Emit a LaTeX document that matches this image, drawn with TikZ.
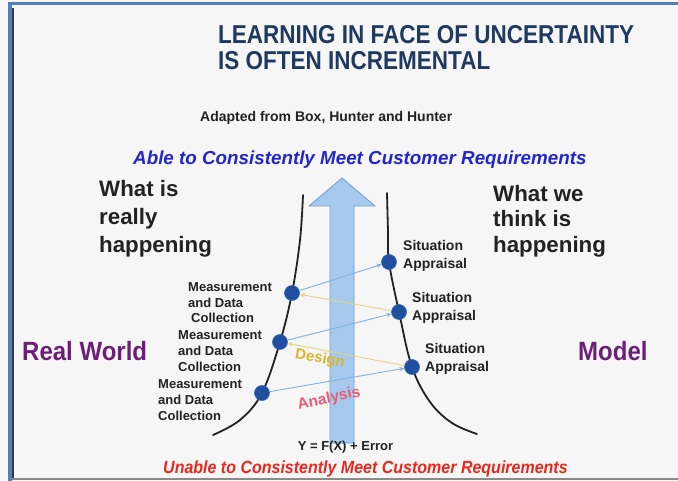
\documentclass[tikz,border=0pt]{standalone}
\usepackage{fontspec}
\setmainfont{Liberation Sans}
\usetikzlibrary{arrows.meta}
\definecolor{bgc}{HTML}{F6F6F6}
\definecolor{framec}{HTML}{4F7FC0}
\definecolor{innerline}{HTML}{3A3A3A}
\definecolor{bottomline}{HTML}{8A8A8A}
\definecolor{ink}{HTML}{222222}
\definecolor{titlec}{HTML}{1F3A60}
\definecolor{ablec}{HTML}{2226C8}
\definecolor{unablec}{HTML}{E8281E}
\definecolor{purplec}{HTML}{6D1F78}
\definecolor{designc}{HTML}{DDB52C}
\definecolor{analysisc}{HTML}{E85C78}
\definecolor{arrowfill}{HTML}{A6CAEE}
\definecolor{arrowedge}{HTML}{6E9DD3}
\definecolor{dotc}{HTML}{1F4F9E}
\definecolor{dotedge}{HTML}{2F66BA}
\definecolor{linkblue}{HTML}{80B0DE}
\definecolor{linkyel}{HTML}{E6D27E}
\begin{document}
\begin{tikzpicture}[x=1pt,y=-1pt,
  txt/.style={inner sep=0pt, text=ink},
  dot/.style={circle, fill=dotc, draw=dotedge, line width=0.6pt, minimum size=15pt, inner sep=0pt},
  fwd/.style={draw=linkblue, line width=0.9pt, -{Stealth[length=5pt,width=4.5pt]}},
  bwd/.style={draw=linkyel, line width=0.9pt, -{Stealth[length=5pt,width=4.5pt]}},
  curve/.style={draw=ink, line width=1.8pt, line cap=round},
  lbl/.style={txt, anchor=north west, align=left, font=\fontsize{13}{16}\selectfont\bfseries},
  sit/.style={txt, anchor=north west, align=left, font=\fontsize{14}{18}\selectfont\bfseries},
  big/.style={txt, anchor=north west, align=left, font=\fontsize{22.3}{28}\selectfont\bfseries},
  side/.style={inner sep=0pt, text=purplec, anchor=base west, font=\fontsize{24}{28}\selectfont\bfseries, transform shape, yscale=1.1},
]
\useasboundingbox (0,0) rectangle (678,481);
\fill[bgc] (0,0) rectangle (678,481);
% frame
\fill[framec] (8,2) rectangle (678,5);
\fill[framec] (8,2) rectangle (12,481);
\fill[innerline] (12,8) rectangle (14,478);
\fill[bottomline] (12,477.5) rectangle (678,480);

% big arrow
\coordinate (tip) at (342,178);
\filldraw[fill=arrowfill, draw=arrowedge, line width=0.8pt]
  (330,443) -- (330,206) -- (309,206) -- (tip) -- (375,206) -- (354,206) -- (354,443) -- cycle;

% curves
\draw[curve] plot[smooth, tension=0.6] coordinates {(303,195) (300,240) (292,293) (280,342) (262,393) (240,420) (213,435)};
\draw[curve] plot[smooth, tension=0.6] coordinates {(387,193) (388,232) (389,262) (399,312) (412,367) (430,402) (452,423) (477,434)};

% dots
\node[dot] (L1) at (292,293) {};
\node[dot] (L2) at (280,342) {};
\node[dot] (L3) at (262,393) {};
\node[dot] (R1) at (389,262) {};
\node[dot] (R2) at (399,312) {};
\node[dot] (R3) at (412,367) {};

% connectors
\draw[fwd] (L1) -- (R1);
\draw[bwd] (R2) -- (L1);
\draw[fwd] (L2) -- (R2);
\draw[bwd] (R3) -- (L2);
\draw[fwd] (L3) -- (R3);

% texts
\node[txt, anchor=north west, align=left, text=titlec, font=\fontsize{22.5}{22.6}\selectfont\bfseries, transform shape, yscale=1.15] (title) at (218,25.5) {LEARNING IN FACE OF UNCERTAINTY\\IS OFTEN INCREMENTAL};
\node[txt, anchor=base west, font=\fontsize{14}{16}\selectfont\bfseries] (adapted) at (200,122) {Adapted from Box, Hunter and Hunter};
\node[txt, anchor=base west, text=ablec, font=\fontsize{18.8}{22}\selectfont\bfseries\itshape] (able) at (133,165) {Able to Consistently Meet Customer Requirements};
\node[big] (real) at (99,180) {What is\\really\\happening};
\node[big, font=\fontsize{22.3}{25.5}\selectfont\bfseries] (think) at (493,185) {What we\\think is\\happening};
\node[side] (rw) at (22,360) {Real World};
\node[side] (model) at (578,360) {Model};

\node[sit] (s1) at (403,240) {Situation\\Appraisal};
\node[sit] (s2) at (412,292) {Situation\\Appraisal};
\node[sit] (s3) at (425,343) {Situation\\Appraisal};

\node[lbl, font=\fontsize{13}{15.5}\selectfont\bfseries] (m1) at (188,282.7) {Measurement\\and Data\\\hspace*{3pt}Collection};
\node[lbl] (m2) at (178,330.7) {Measurement\\and Data\\Collection};
\node[lbl] (m3) at (158,379.7) {Measurement\\and Data\\Collection};

\node[inner sep=0pt, text=designc, rotate=-10, font=\fontsize{15}{17}\selectfont\bfseries] (design) at (320,359) {Design};
\node[inner sep=0pt, text=analysisc, rotate=12, font=\fontsize{15.5}{17}\selectfont\bfseries] (analysis) at (329,399) {Analysis};

\node[txt, anchor=base, font=\fontsize{13}{15}\selectfont\bfseries] (eq) at (345.5,450) {Y = F(X) + Error};
\node[inner sep=0pt, anchor=base west, text=unablec, font=\fontsize{16}{18}\selectfont\bfseries\itshape, transform shape, yscale=1.1] (unable) at (163,473) {Unable to Consistently Meet Customer Requirements};
\end{tikzpicture}
\end{document}
